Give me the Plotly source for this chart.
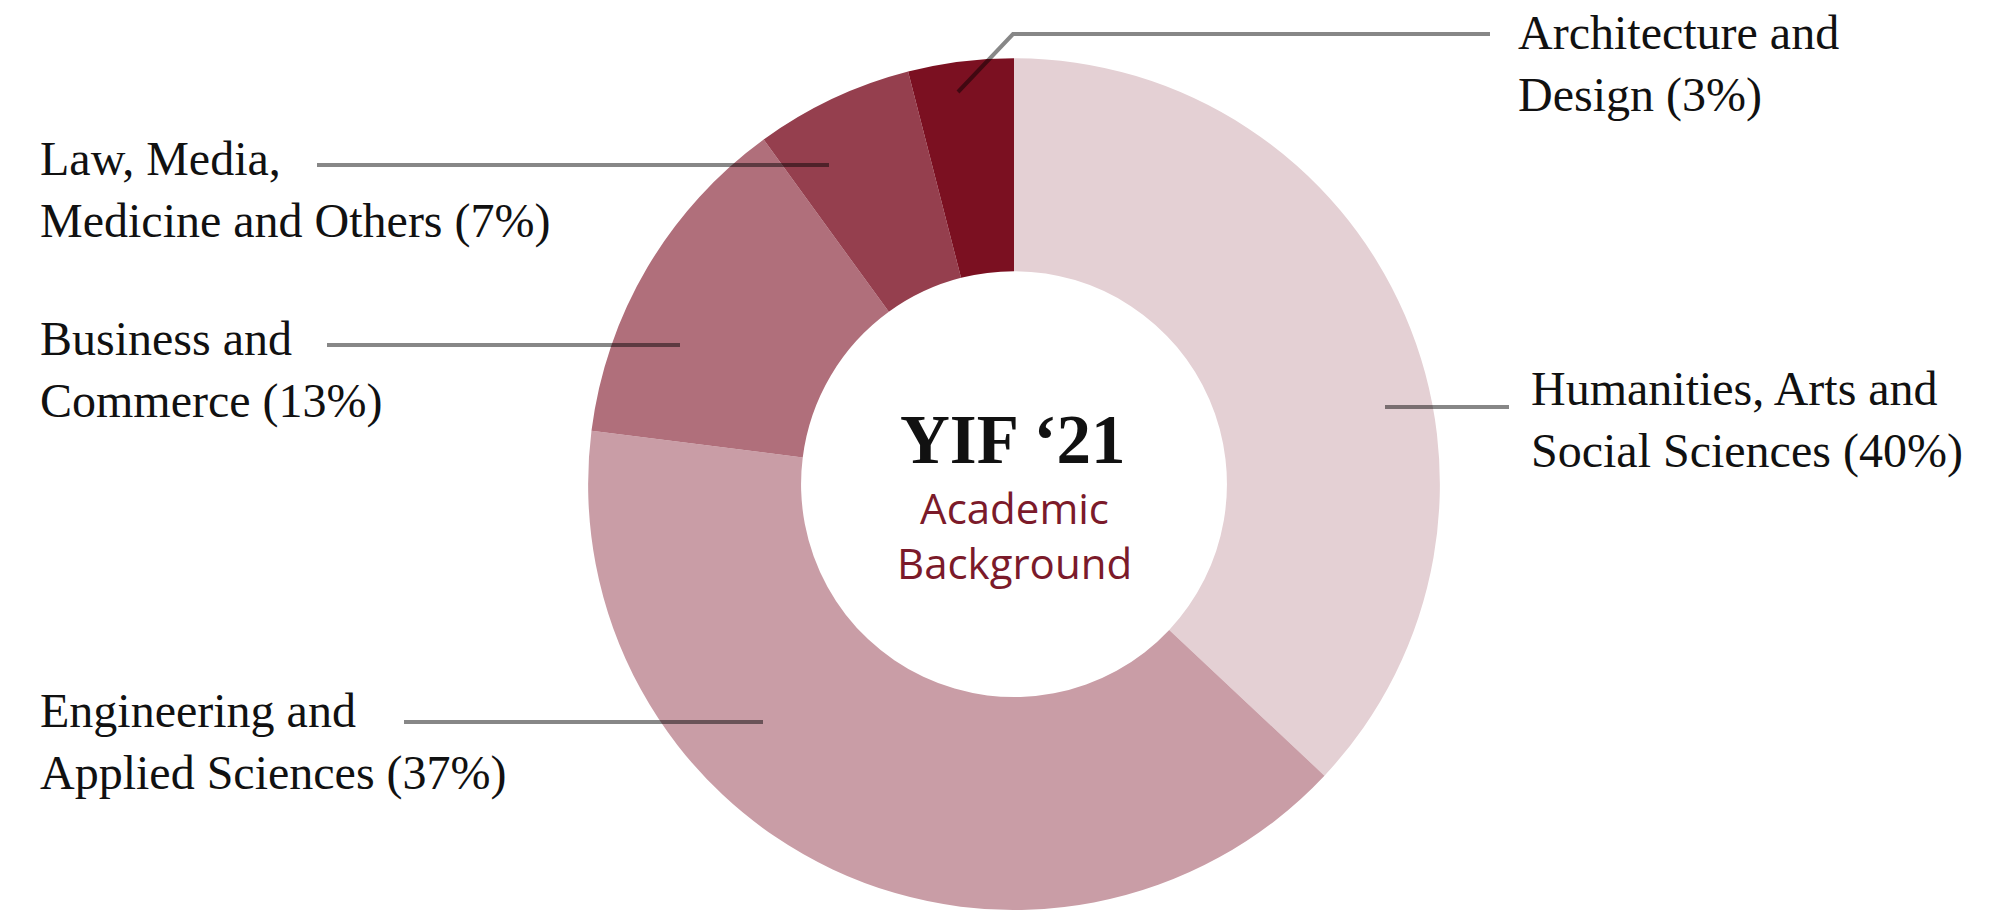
import plotly.graph_objects as go

# ---- data ----
categories = [
    "Humanities, Arts and Social Sciences",
    "Engineering and Applied Sciences",
    "Business and Commerce",
    "Law, Media, Medicine and Others",
    "Architecture and Design",
]
# slice sizes as drawn in the reference (percent)
values = [37, 40, 13, 6, 4]
# label texts as printed in the reference
label_texts = [
    "Humanities, Arts and<br>Social Sciences (40%)",
    "Engineering and<br>Applied Sciences (37%)",
    "Business and<br>Commerce (13%)",
    "Law, Media,<br>Medicine and Others (7%)",
    "Architecture and<br>Design (3%)",
]
colors = ["#e4d0d4", "#c99da6", "#b06f7b", "#953f4e", "#7b1021"]

W, H = 2005, 910


def px(x):
    return x / W


def py(y):
    return 1 - y / H


fig = go.Figure()
cx = 1014 / W
fig.add_trace(go.Pie(
    labels=categories,
    values=values,
    hole=0.5,
    sort=False,
    direction="clockwise",
    rotation=0,
    marker=dict(colors=colors, line=dict(width=0)),
    textinfo="none",
    hoverinfo="label+percent",
    showlegend=False,
    domain=dict(x=[cx - 0.3, cx + 0.3], y=[0, 0.936]),
))

line_style = dict(color="rgba(0,0,0,0.47)", width=4)
# leader lines (pixel positions)
leaders = [
    [(1385, 407), (1509, 407)],            # Humanities
    [(404, 722), (763, 722)],              # Engineering
    [(327, 345), (680, 345)],              # Business
    [(317, 165), (829, 165)],              # Law
    [(958, 92), (1013, 34), (1490, 34)],   # Architecture
]
for pts in leaders:
    path = "M " + " L ".join(f"{px(x)},{py(y)}" for x, y in pts)
    fig.add_shape(type="path", path=path, xref="paper", yref="paper",
                  line=line_style)

# label positions (left x, vertical middle y) in pixels
label_pos = [(1529, 420), (38, 742), (38, 370), (38, 190), (1516, 64)]
for txt, (x, y) in zip(label_texts, label_pos):
    fig.add_annotation(
        text=txt, x=px(x), y=py(y), xref="paper", yref="paper",
        xanchor="left", yanchor="middle", align="left", showarrow=False,
        font=dict(family="Liberation Serif", size=48, color="#111111"),
    )

# centre titles
fig.add_annotation(
    text="<b>YIF ‘21</b>", x=px(1013), y=py(440), xref="paper", yref="paper",
    xanchor="center", yanchor="middle", showarrow=False,
    font=dict(family="Liberation Serif", size=69, color="#111111"),
)
fig.add_annotation(
    text="Academic<br>Background", x=px(1014), y=py(535), xref="paper", yref="paper",
    xanchor="center", yanchor="middle", showarrow=False,
    font=dict(family="Open Sans", size=42, color="#7b1a2a"),
)

fig.update_layout(
    width=W, height=H,
    margin=dict(l=0, r=0, t=0, b=0),
    paper_bgcolor="white",
    plot_bgcolor="white",
)

fig.write_html("out.html")
